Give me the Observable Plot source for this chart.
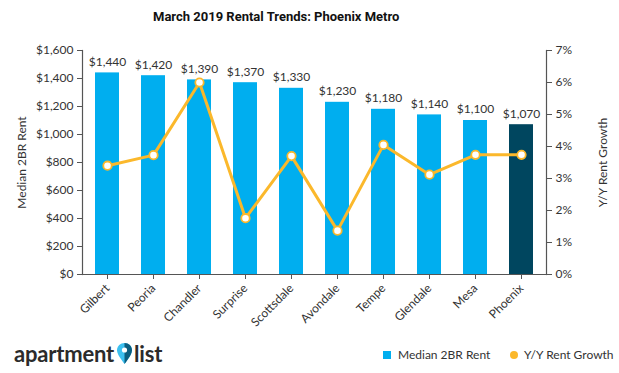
<!DOCTYPE html>
<html>
<head>
<meta charset="utf-8">
<script src="https://cdn.jsdelivr.net/npm/d3@7"></script>
<script src="https://cdn.jsdelivr.net/npm/@observablehq/plot@0.6"></script>
<style>
  html, body { margin: 0; padding: 0; background: #fff; }
  body { width: 619px; height: 373px; overflow: hidden; font-family: Lato, "Open Sans", sans-serif; color: #333; }
  #title { position: relative; height: 36px; }
  #title span { position: absolute; left: 153px; top: 9px; font-family: Roboto, sans-serif; font-weight: 700; font-size: 13px; color: #111; white-space: nowrap; }
  #foot { position: relative; height: 37px; }
  #logo { position: absolute; left: 14px; top: 4px; font-family: Lato, sans-serif; font-weight: 700; font-size: 22px; color: #2b2b2b; display: flex; align-items: center; letter-spacing: -0.2px; }
  #logo svg { margin: 0 2px 0 3px; }
  .leg { position: absolute; top: 11px; font-size: 12px; display: flex; align-items: center; white-space: nowrap; color: #333; }
  .sw { width: 8px; height: 8px; margin-right: 7px; }
  .dt { width: 8px; height: 8px; border-radius: 50%; margin-right: 6px; }
</style>
</head>
<body>
<div id="title"><span>March 2019 Rental Trends: Phoenix Metro</span></div>
<div id="chart"></div>
<div id="foot">
  <div id="logo"><span>apartment</span><svg width="15" height="22" viewBox="0 0 15 22"><path d="M7.5 0 C3.3 0 0 3.2 0 7.3 C0 12 7.5 21 7.5 21 C7.5 21 15 12 15 7.3 C15 3.2 11.7 0 7.5 0 Z" fill="#3cc0f0"/><path d="M7.5 0 C11.7 0 15 3.2 15 7.3 C15 12 7.5 21 7.5 21 Z" fill="#0a5d7f"/><circle cx="7.5" cy="7" r="2.6" fill="#fff"/></svg><span>list</span></div>
  <div class="leg" style="left:383px"><div class="sw" style="background:#00AEEF"></div>Median 2BR Rent</div>
  <div class="leg" style="left:510px"><div class="dt" style="background:#FBB82B"></div>Y/Y Rent Growth</div>
</div>
<script>
const cities = ["Gilbert", "Peoria", "Chandler", "Surprise", "Scottsdale", "Avondale", "Tempe", "Glendale", "Mesa", "Phoenix"];
const rents = [1440, 1420, 1390, 1370, 1330, 1230, 1180, 1140, 1100, 1070];
const growth = [3.4, 3.73, 6.0, 1.76, 3.7, 1.37, 4.05, 3.12, 3.74, 3.74];
const highlightCity = "Phoenix";
const rentTicks = [0, 200, 400, 600, 800, 1000, 1200, 1400, 1600];
const growthTicks = [0, 1, 2, 3, 4, 5, 6, 7];
const leftTitle = "Median 2BR Rent";
const rightTitle = "Y/Y Rent Growth";

const blue = "#00AEEF", dark = "#00465F", orange = "#FBB82B", axisColor = "#555";
const rentMax = 1600, growthMax = 7, k = rentMax / growthMax;
const data = cities.map((c, i) => ({city: c, rent: rents[i], growth: growth[i]}));
const money = d3.format("$,");

const chart = Plot.plot({
  width: 619, height: 300,
  marginTop: 14, marginBottom: 62, marginLeft: 82, marginRight: 73,
  style: {fontFamily: "Lato, sans-serif", fontSize: "12px", color: "#333", background: "#fff"},
  x: {domain: cities, paddingInner: 0.48, paddingOuter: 0.22, label: null},
  y: {domain: [0, rentMax], label: null},
  marks: [
    Plot.barY(data, {x: "city", y: "rent", fill: d => d.city === highlightCity ? dark : blue}),
    Plot.text(data, {x: "city", y: "rent", text: d => money(d.rent), dy: -11, fontSize: 12, fill: "#333"}),
    Plot.line(data, {x: "city", y: d => d.growth * k, stroke: orange, strokeWidth: 3}),
    Plot.dot(data, {x: "city", y: d => d.growth * k, r: 4.2, fill: "#fff", stroke: orange, strokeWidth: 1.8}),
    Plot.axisY({ticks: rentTicks, tickFormat: money, tickSize: 5, label: null, stroke: axisColor}),
    Plot.axisY({anchor: "right", ticks: growthTicks.map(v => v * k), tickFormat: v => Math.round(v / k) + "%", tickSize: 5, label: null, stroke: axisColor}),
    Plot.axisX({tickRotate: -45, tickSize: 5, label: null, stroke: axisColor}),
    Plot.ruleY([0], {stroke: axisColor, strokeWidth: 1.2}),
    Plot.frame({anchor: "left", stroke: axisColor, strokeWidth: 1.2}),
    Plot.frame({anchor: "right", stroke: axisColor, strokeWidth: 1.2}),
    Plot.text([leftTitle], {frameAnchor: "left", dx: -60, rotate: -90, textAnchor: "middle", text: d => d, fontSize: 12, fill: "#333"}),
    Plot.text([rightTitle], {frameAnchor: "right", dx: 57, rotate: -90, textAnchor: "middle", text: d => d, fontSize: 12, fill: "#333"})
  ]
});
document.getElementById("chart").append(chart);
</script>
</body>
</html>
